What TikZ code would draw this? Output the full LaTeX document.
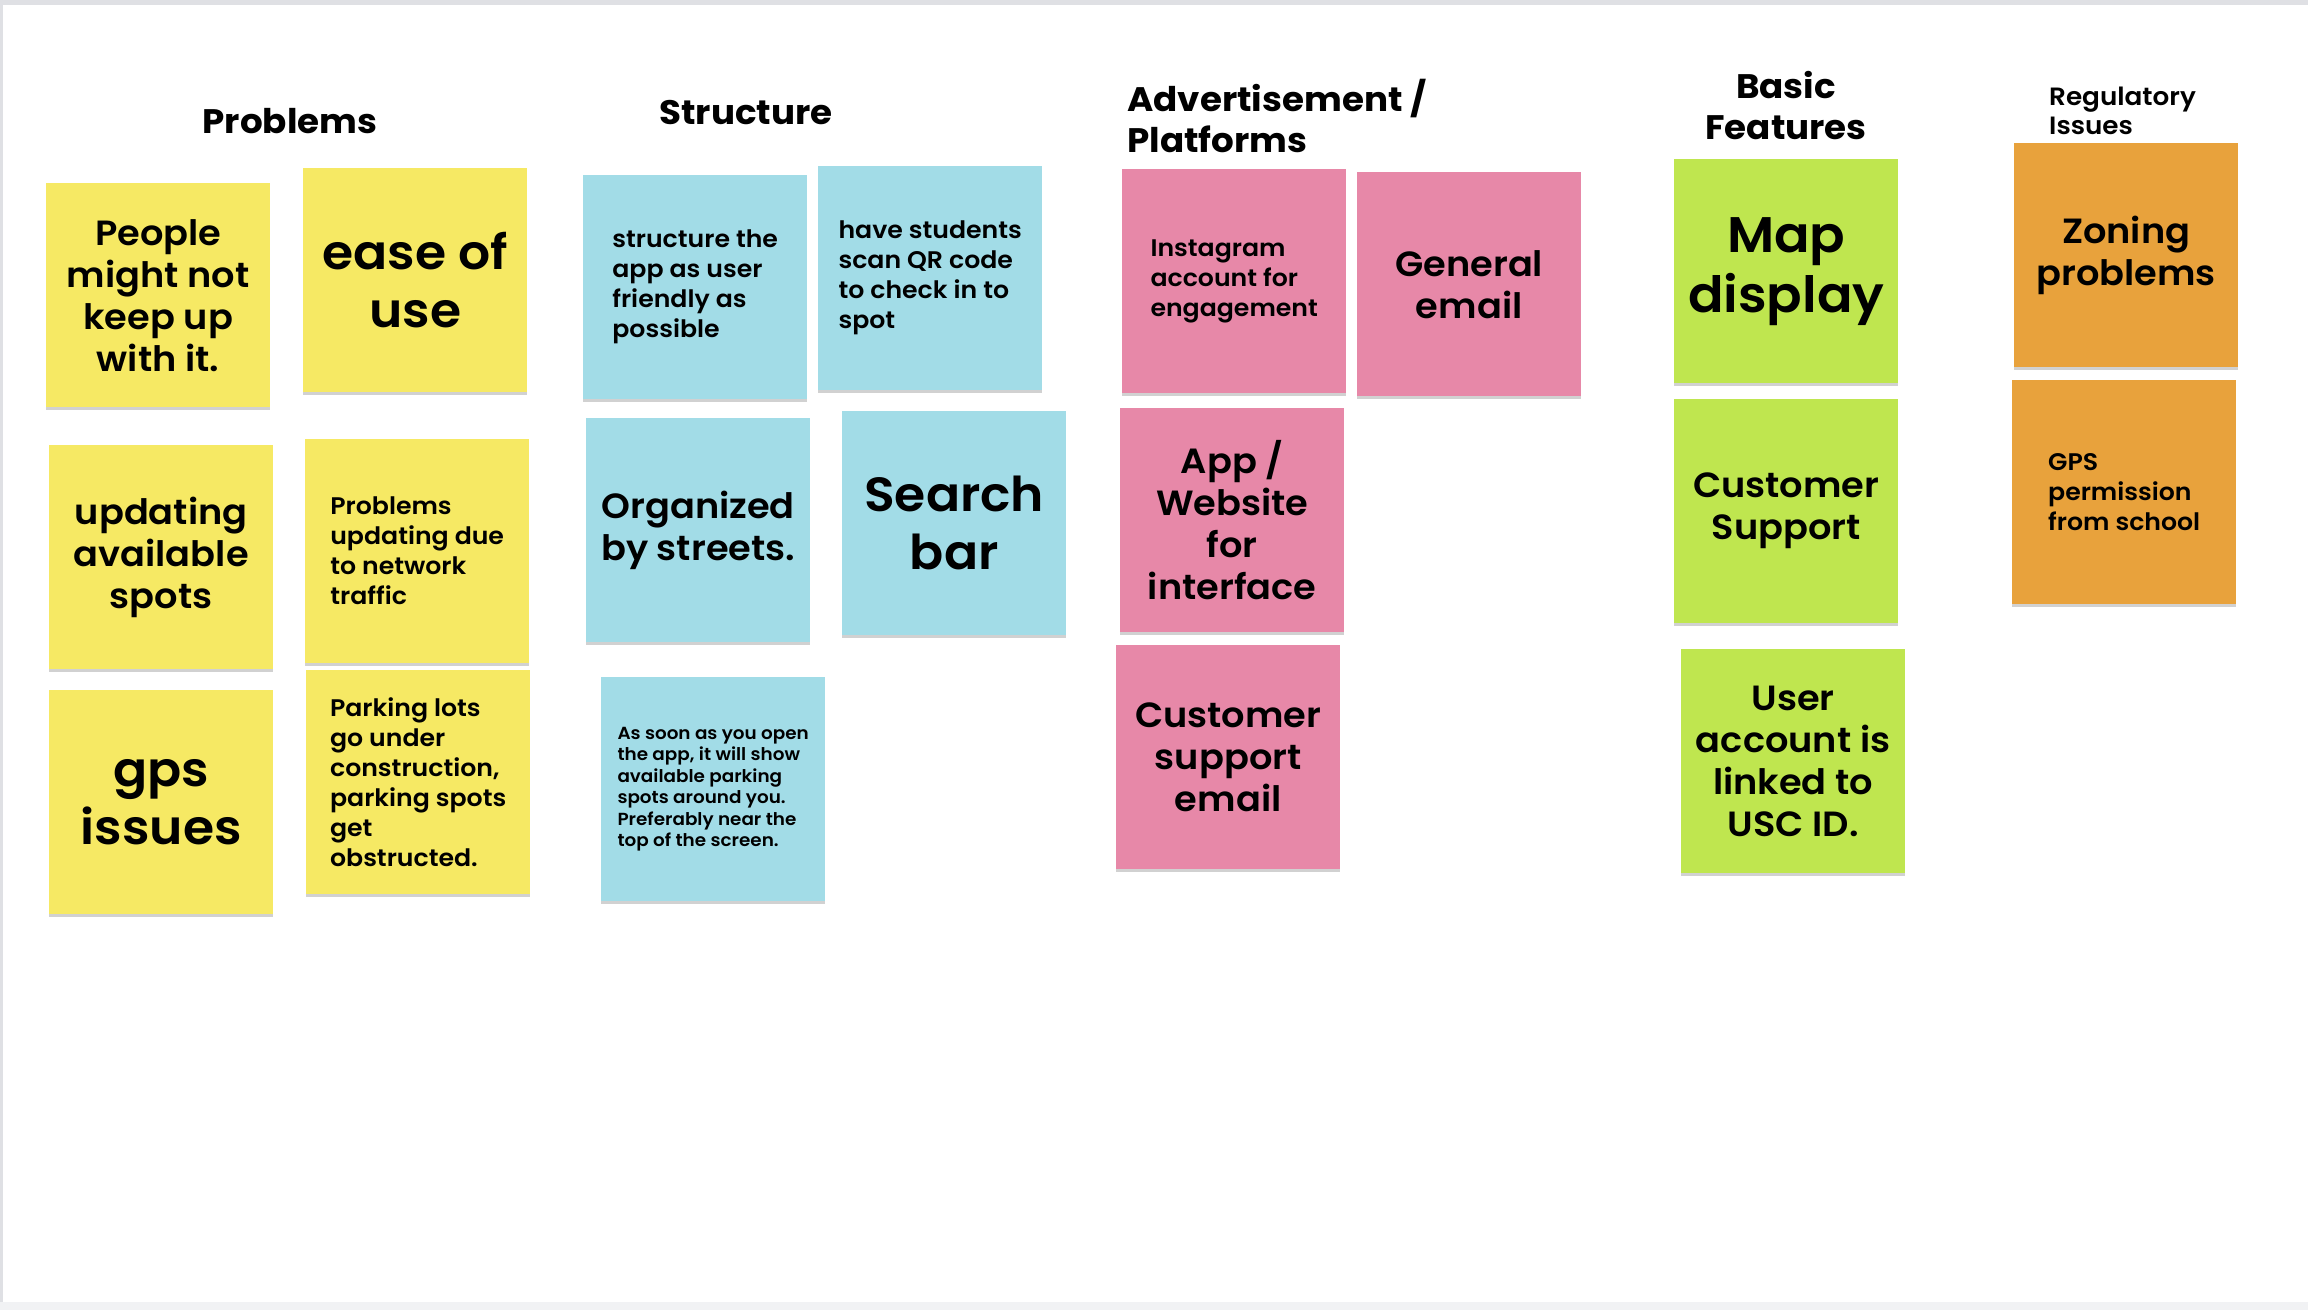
\documentclass[tikz,border=0pt]{standalone}
\usepackage{fontspec}
\setmainfont{Poppins}[UprightFont=* SemiBold, BoldFont=* Bold, FakeStretch=1.05]
\usetikzlibrary{shadows}

\definecolor{stickyyellow}{HTML}{F6E964}
\definecolor{stickyblue}{HTML}{A2DCE7}
\definecolor{stickypink}{HTML}{E788A8}
\definecolor{stickygreen}{HTML}{BFE64F}
\definecolor{stickyorange}{HTML}{E8A23C}
\definecolor{frameside}{HTML}{DFE0E4}
\definecolor{framebottom}{HTML}{F1F2F4}

\tikzset{
  sticky/.style={rectangle, minimum width=224pt, minimum height=224pt,
    inner sep=0pt, anchor=north west,
    drop shadow={shadow xshift=0pt, shadow yshift=-3pt, opacity=0.18, fill=black}},
  txtXS/.style={font=\fontsize{17.5}{21.5}\selectfont},
  txtS/.style={font=\fontsize{24}{30}\selectfont},
  txtM/.style={font=\fontsize{35}{42}\selectfont},
  txtL/.style={font=\fontsize{48}{58}\selectfont},
  txtXL/.style={font=\fontsize{50}{60}\selectfont},
  heading/.style={font=\bfseries\fontsize{34}{41}\selectfont},
  smallheading/.style={font=\fontsize{25}{29}\selectfont}
}

\begin{document}
\begin{tikzpicture}[x=1pt,y=-1pt]
\useasboundingbox (0,0) rectangle (2308,1310);
% board frame
\fill[frameside] (0,0) rectangle (2308,1310);
\fill[framebottom] (0,1302) rectangle (2308,1310);
\fill[white] (3,5) rectangle (2308,1302);

% column headings
\node[heading] (hprob) at (290,121) {Problems};
\node[heading] (hstruct) at (746,113) {Structure};
\node[heading, anchor=west, align=left, inner sep=0pt] (hadv) at (1127,116) {Advertisement /\\Platforms};
\node[heading, align=center] (hbasic) at (1786,106) {Basic\\Features};
\node[smallheading, anchor=west, align=left, inner sep=0pt] (hreg) at (2049,111) {Regulatory\\Issues};

% Problems
\node[sticky, fill=stickyyellow, txtM, align=center] (people) at (46,183) {People\\might not\\keep up\\with it.};
\node[sticky, fill=stickyyellow, txtL, align=center] (ease) at (303,168) {ease of\\use};
\node[sticky, fill=stickyyellow, txtM, align=center] (updating) at (49,445) {updating\\available\\spots};
\node[sticky, fill=stickyyellow, txtS, align=left] (network) at (305,439) {Problems\\updating due\\to network\\traffic};
\node[sticky, fill=stickyyellow, txtL, align=center] (gps) at (49,690) {gps\\issues};
\node[sticky, fill=stickyyellow, txtS, align=left] (lots) at (306,670) {Parking lots\\go under\\construction,\\parking spots\\get\\obstructed.};

% Structure
\node[sticky, fill=stickyblue, txtS, align=left] (friendly) at (583,175) {structure the\\app as user\\friendly as\\possible};
\node[sticky, fill=stickyblue, txtS, align=left] (qr) at (818,166) {have students\\scan QR code\\to check in to\\spot};
\node[sticky, fill=stickyblue, txtM, align=center] (streets) at (586,418) {Organized\\by streets.};
\node[sticky, fill=stickyblue, txtL, align=center] (search) at (842,411) {Search\\bar};
\node[sticky, fill=stickyblue, txtXS, align=left] (open) at (601,677) {As soon as you open\\the app, it will show\\available parking\\spots around you.\\Preferably near the\\top of the screen.};

% Advertisement / Platforms
\node[sticky, fill=stickypink, txtS, align=left] (insta) at (1122,169) {Instagram\\account for\\engagement};
\node[sticky, fill=stickypink, txtM, align=center] (genmail) at (1357,172) {General\\email};
\node[sticky, fill=stickypink, txtM, align=center] (website) at (1120,408) {App /\\Website\\for\\interface};
\node[sticky, fill=stickypink, txtM, align=center] (supmail) at (1116,645) {Customer\\support\\email};

% Basic Features
\node[sticky, fill=stickygreen, txtXL, align=center] (map) at (1674,159) {Map\\display};
\node[sticky, fill=stickygreen, txtM, align=center] (support) at (1674,399) {Customer\\Support};
\node[sticky, fill=stickygreen, txtM, align=center] (uscid) at (1681,649) {User\\account is\\linked to\\USC ID.};

% Regulatory Issues
\node[sticky, fill=stickyorange, txtM, align=center] (zoning) at (2014,143) {Zoning\\problems};
\node[sticky, fill=stickyorange, txtS, align=left] (perm) at (2012,380) {GPS\\permission\\from school};
\end{tikzpicture}
\end{document}
